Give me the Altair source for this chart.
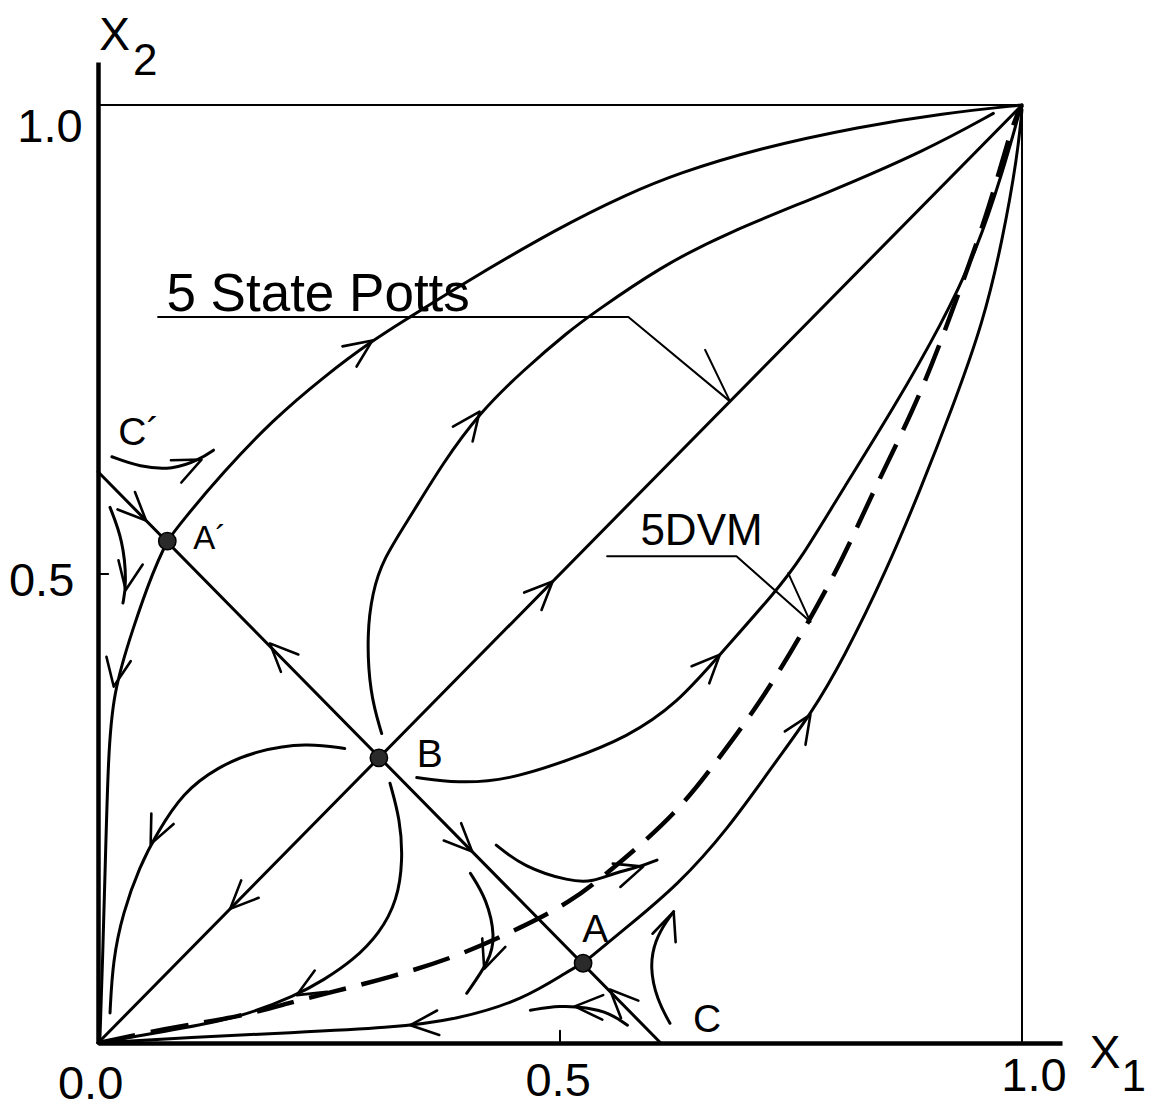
import altair as alt
import pandas as pd

FONT = "Liberation Sans"

# ---------------- flow lines in the (x1, x2) plane ----------------
# upper separatrix leaving A' towards the Potts fixed point (1, 1)
outer_x = [0.075, 0.089, 0.135, 0.189, 0.244, 0.297, 0.338, 0.389, 0.500, 0.573, 0.627, 0.716, 0.825, 0.914, 1.0]
outer_y = [0.535, 0.554, 0.608, 0.664, 0.710, 0.749, 0.774, 0.806, 0.870, 0.905, 0.927, 0.954, 0.977, 0.991, 1.0]

# trajectory leaving B upwards, bending towards (1, 1)
upper_x = [0.307, 0.294, 0.291, 0.297, 0.308, 0.338, 0.373, 0.413, 0.460, 0.511, 0.536, 0.608, 0.681, 0.789, 0.897, 0.969]
upper_y = [0.330, 0.373, 0.437, 0.480, 0.515, 0.561, 0.618, 0.672, 0.717, 0.760, 0.778, 0.827, 0.864, 0.906, 0.952, 0.991]

# trajectory leaving B to the right, bending towards (1, 1)
lower_x = [0.345, 0.389, 0.443, 0.511, 0.573, 0.627, 0.673, 0.735, 0.760, 0.806, 0.860, 0.914, 0.951, 0.979, 0.998]
lower_y = [0.283, 0.277, 0.280, 0.302, 0.326, 0.362, 0.414, 0.483, 0.515, 0.590, 0.675, 0.768, 0.845, 0.928, 0.995]

# separatrix leaving A towards (1, 1)
right_x = [0.525, 0.573, 0.627, 0.681, 0.735, 0.771, 0.806, 0.854, 0.890, 0.925, 0.958, 0.979, 0.995, 1.0]
right_y = [0.085, 0.124, 0.168, 0.227, 0.302, 0.350, 0.408, 0.505, 0.590, 0.678, 0.768, 0.856, 0.945, 0.995]

# separatrix leaving A towards the origin
bottom_x = [0.525, 0.511, 0.460, 0.389, 0.316, 0.208, 0.100, 0.0]
bottom_y = [0.085, 0.078, 0.046, 0.025, 0.016, 0.011, 0.006, 0.0]

# separatrix leaving A' towards the origin
left_x = [0.075, 0.060, 0.038, 0.016, 0.011, 0.008, 0.005, 0.002]
left_y = [0.535, 0.504, 0.443, 0.373, 0.302, 0.195, 0.088, 0.003]

# trajectory leaving B to the left, down to the origin
lobe_x = [0.267, 0.226, 0.172, 0.129, 0.092, 0.064, 0.045, 0.027, 0.016, 0.013]
lobe_y = [0.314, 0.320, 0.312, 0.294, 0.267, 0.224, 0.188, 0.139, 0.088, 0.032]

# trajectory leaving B downwards, down to the origin
drop_x = [0.316, 0.327, 0.330, 0.324, 0.305, 0.276, 0.244, 0.215, 0.154, 0.081, 0.0]
drop_y = [0.277, 0.238, 0.195, 0.152, 0.117, 0.088, 0.067, 0.051, 0.027, 0.014, 0.0]

# short hyperbolic flow pieces around the saddle points
near_c1_x = [0.015, 0.045, 0.081, 0.110, 0.125]
near_c1_y = [0.625, 0.614, 0.611, 0.622, 0.632]
near_a1_x = [0.013, 0.027, 0.031, 0.027]
near_a1_y = [0.571, 0.536, 0.490, 0.469]
near_b1_x = [0.403, 0.421, 0.430, 0.424, 0.399]
near_b1_y = [0.181, 0.153, 0.113, 0.088, 0.053]
near_b2_x = [0.431, 0.460, 0.511, 0.536, 0.558, 0.587, 0.605]
near_b2_y = [0.211, 0.188, 0.172, 0.172, 0.181, 0.188, 0.195]
near_b3_x = [0.573, 0.554, 0.529, 0.500, 0.468]
near_b3_y = [0.019, 0.032, 0.038, 0.040, 0.035]
near_c_x = [0.619, 0.605, 0.597, 0.603, 0.616, 0.623]
near_c_y = [0.021, 0.046, 0.081, 0.110, 0.131, 0.140]

# 5DVM line (dashed)
dvm_x = [0.0, 0.081, 0.154, 0.208, 0.248, 0.316, 0.389, 0.460, 0.511, 0.554, 0.627, 0.673, 0.716, 0.760, 0.806, 0.843, 0.890, 0.933, 0.965, 0.990, 1.0]
dvm_y = [0.0, 0.017, 0.028, 0.043, 0.053, 0.070, 0.092, 0.124, 0.150, 0.183, 0.245, 0.305, 0.362, 0.433, 0.515, 0.597, 0.689, 0.803, 0.891, 0.981, 1.0]

# straight invariant lines: the Potts diagonal and the line through A', B, A
diag_x = [0.0, 1.0]
diag_y = [0.0, 1.0]
anti_x = [0.0, 0.609]
anti_y = [0.609, 0.0]

# frame at x1 = 1 and x2 = 1
top_x = [0.0, 1.0]
top_y = [1.0, 1.0]
side_x = [1.0, 1.0]
side_y = [0.0, 1.0]

# inward ticks at 0.5
xtick_x = [0.5, 0.5]
xtick_y = [0.0, 0.013]
ytick_x = [0.0, 0.011]
ytick_y = [0.5, 0.5]

# leader lines of the two annotations
potts_lead_x = [0.065, 0.574, 0.684]
potts_lead_y = [0.774, 0.774, 0.684]
potts_barb_x = [0.657, 0.684]
potts_barb_y = [0.739, 0.684]
dvm_lead_x = [0.551, 0.691, 0.771]
dvm_lead_y = [0.519, 0.519, 0.449]
dvm_barb_x = [0.747, 0.771]
dvm_barb_y = [0.501, 0.449]

# arrowheads: tip position and heading (degrees clockwise from "up")
arrow_x = [0.297, 0.413, 0.673, 0.771, 0.492, 0.143, 0.052, 0.186, 0.405, 0.554,
           0.338, 0.017, 0.057, 0.215, 0.112, 0.030, 0.418, 0.590, 0.516, 0.623]
arrow_y = [0.749, 0.673, 0.414, 0.350, 0.492, 0.143, 0.557, 0.426, 0.204, 0.057,
           0.019, 0.380, 0.212, 0.051, 0.622, 0.483, 0.079, 0.188, 0.039, 0.140]
arrow_heading = [55, 37, 44, 33, 45, 225, 135, 315, 135, 315,
                 265, 190, 205, 240, 65, 190, 200, 72, 272, 20]

# fixed points
fixed_x = [0.075, 0.304, 0.525]
fixed_y = [0.535, 0.304, 0.085]

# labels
point_text = ["B", "A", "C", "C´"]
point_x = [0.345, 0.524, 0.644, 0.022]
point_y = [0.294, 0.108, 0.012, 0.638]
prime_text = ["A´"]
prime_x = [0.103]
prime_y = [0.527]
tick_text = ["1.0", "0.5", "0.0", "0.5", "1.0"]
tick_x = [-0.052, -0.061, -0.008, 0.498, 1.013]
tick_y = [0.960, 0.476, -0.060, -0.056, -0.051]
# axis names drawn as letter + subscript digit
name_text = ["X", "X"]
name_x = [0.018, 1.090]
name_y = [1.059, -0.027]
sub_text = ["2", "1"]
sub_x = [0.051, 1.121]
sub_y = [1.032, -0.051]


def lines(named):
    rows = []
    for name, (xs, ys) in named.items():
        for i, (a, b) in enumerate(zip(xs, ys)):
            rows.append({"curve": name, "order": i, "x1": a, "x2": b})
    return pd.DataFrame(rows)


def points(xs, ys, **cols):
    df = pd.DataFrame({"x1": xs, "x2": ys})
    for k, v in cols.items():
        df[k] = v
    return df


curves_df = lines({
    "outer": (outer_x, outer_y), "upper": (upper_x, upper_y),
    "lower": (lower_x, lower_y), "right": (right_x, right_y),
    "bottom": (bottom_x, bottom_y), "left": (left_x, left_y),
    "lobe": (lobe_x, lobe_y), "drop": (drop_x, drop_y),
    "c1": (near_c1_x, near_c1_y), "a1": (near_a1_x, near_a1_y),
    "b1": (near_b1_x, near_b1_y), "b2": (near_b2_x, near_b2_y),
    "b3": (near_b3_x, near_b3_y), "c": (near_c_x, near_c_y),
})
dvm_df = lines({"dvm": (dvm_x, dvm_y)})
straight_df = lines({"diag": (diag_x, diag_y), "anti": (anti_x, anti_y)})
frame_df = lines({"top": (top_x, top_y), "side": (side_x, side_y),
                  "xt": (xtick_x, xtick_y), "yt": (ytick_x, ytick_y)})
leader_df = lines({"pl": (potts_lead_x, potts_lead_y), "pb": (potts_barb_x, potts_barb_y),
                   "dl": (dvm_lead_x, dvm_lead_y), "db": (dvm_barb_x, dvm_barb_y)})
arrows_df = points(arrow_x, arrow_y, heading=arrow_heading)
fixed_df = points(fixed_x, fixed_y)

X = alt.X("x1:Q", scale=alt.Scale(domain=[0, 1.0433], nice=False, zero=False),
          axis=alt.Axis(domain=True, domainColor="black", domainWidth=4.5, ticks=False,
                        labels=False, grid=False, title=None))
Y = alt.Y("x2:Q", scale=alt.Scale(domain=[0, 1.0458], nice=False, zero=False),
          axis=alt.Axis(domain=True, domainColor="black", domainWidth=4.5, ticks=False,
                        labels=False, grid=False, title=None))


def line_layer(df, **mark):
    style = {"color": "black", "strokeCap": "round", "strokeJoin": "round"}
    style.update(mark)
    return alt.Chart(df).mark_line(**style).encode(
        x=X, y=Y, detail="curve:N", order="order:Q")


def text_layer(txt, xs, ys, size, align="center"):
    df = pd.DataFrame({"x1": xs, "x2": ys, "label": txt})
    return alt.Chart(df).mark_text(font=FONT, fontSize=size, align=align, baseline="alphabetic",
                                   color="black").encode(x=X, y=Y, text="label:N")


ARROW = "M -0.55 1.25 L 0 0 L 0.55 1.25"

layers = [
    line_layer(frame_df, strokeWidth=2),
    line_layer(straight_df, strokeWidth=3),
    line_layer(curves_df, strokeWidth=3, interpolate="basis"),
    line_layer(dvm_df, strokeWidth=4.5, strokeDash=[38, 16], strokeCap="butt", interpolate="basis"),
    line_layer(leader_df, strokeWidth=2),
    alt.Chart(arrows_df).mark_point(shape=ARROW, size=2000, filled=False, color="black",
                                    strokeWidth=2.6, opacity=1, strokeCap="round", strokeJoin="round").encode(
        x=X, y=Y, angle=alt.Angle("heading:Q", scale=None)),
    alt.Chart(fixed_df).mark_circle(size=300, color="#2a2a2a", stroke="black", strokeWidth=1.5,
                                    opacity=1).encode(x=X, y=Y),
    text_layer(point_text, point_x, point_y, 39, align="left"),
    text_layer(prime_text, prime_x, prime_y, 33, align="left"),
    text_layer(["5 State Potts"], [0.074], [0.780], 53, align="left"),
    text_layer(["5DVM"], [0.587], [0.531], 44, align="left"),
    text_layer(tick_text, tick_x, tick_y, 47),
    text_layer(name_text, name_x, name_y, 46),
    text_layer(sub_text, sub_x, sub_y, 44),
]

chart = alt.layer(*layers).properties(
    width=964, height=981,
    autosize=alt.AutoSizeParams(type="none"),
    padding={"left": 98, "top": 62, "right": 88, "bottom": 66},
    background="white",
).configure_view(stroke=None)

chart.save("out.html", embed_options={"renderer": "svg", "actions": False})
